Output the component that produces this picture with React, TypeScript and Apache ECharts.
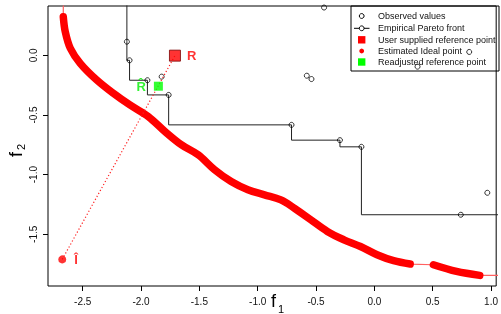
import React, { useEffect, useRef } from 'react';
import * as echarts from 'echarts';

// Axis ticks
const xTicks = [-2.5, -2.0, -1.5, -1.0, -0.5, 0.0, 0.5, 1.0];
const yTicks = [-1.5, -1.0, -0.5, 0.0];

// Observed objective values (f1, f2)
const observedF1 = [-2.121, -2.098, -1.945, -1.823, -1.763, -0.710, -0.295, -0.111, 0.741, -0.579, -0.539, 0.968, 0.813, 0.370, -0.431];
const observedF2 = [0.114, -0.042, -0.209, -0.179, -0.332, -0.583, -0.711, -0.767, -1.336, -0.171, -0.199, -1.152, 0.028, -0.095, 0.400];

// Empirical Pareto front (non-dominated points)
const frontF1 = [-2.121, -2.098, -1.945, -1.763, -0.710, -0.295, -0.111, 0.741];
const frontF2 = [0.114, -0.042, -0.209, -0.332, -0.583, -0.711, -0.767, -1.336];

// Estimated ideal-point curve, two dense segments
const curveAF1 = [-2.666, -2.649, -2.606, -2.521, -2.379, -2.237, -2.095, -1.936, -1.794, -1.652, -1.510, -1.368, -1.227, -1.084, -0.942, -0.801, -0.687, -0.545, -0.403, -0.261, -0.119, 0.023, 0.165, 0.307];
const curveAF2 = [0.323, 0.197, 0.059, -0.067, -0.207, -0.318, -0.416, -0.514, -0.639, -0.751, -0.834, -0.960, -1.058, -1.127, -1.169, -1.211, -1.280, -1.378, -1.476, -1.546, -1.602, -1.671, -1.721, -1.749];
const curveBF1 = [0.506, 0.704, 0.903];
const curveBF2 = [-1.755, -1.811, -1.844];

// Special points
const idealPoint = [-2.675, -1.710];
const userRefPoint = [-1.709, -0.003];
const readjustedPoint = [-1.851, -0.259];

const legendLabels = [
  'Observed values',
  'Empirical Pareto front',
  'User supplied reference point',
  'Estimated Ideal point',
  'Readjusted reference point',
];

const FONT = '"Liberation Sans", Arial, Helvetica, sans-serif';

const zip = (a: number[], b: number[]) => a.map((v, i) => [v, b[i]]);

export default function App() {
  const ref = useRef<HTMLDivElement>(null);
  useEffect(() => {
    const chart = echarts.init(ref.current!, null, { renderer: 'svg' });
    const curveA = zip(curveAF1, curveAF2);
    const curveB = zip(curveBF1, curveBF2);
    const thin = [[curveAF1[0], 0.6], ...curveA, ...curveB, [1.3, curveBF2[curveBF2.length - 1]]];
    const front = [[frontF1[0], 0.6], ...zip(frontF1, frontF2), [1.3, frontF2[frontF2.length - 1]]];

    const lx = 361.7;
    const tx = 378;
    const rows = [16, 28.3, 39.8, 51, 62];
    const legendChildren: any[] = [
      { type: 'rect', shape: { x: 351, y: 6, width: 148, height: 65 }, style: { fill: 'none', stroke: '#000', lineWidth: 1 } },
      { type: 'circle', shape: { cx: lx, cy: rows[0], r: 2.4 }, style: { fill: 'none', stroke: '#000', lineWidth: 1 } },
      { type: 'line', shape: { x1: 354, y1: rows[1], x2: 369.5, y2: rows[1] }, style: { stroke: '#000', lineWidth: 1 } },
      { type: 'circle', shape: { cx: lx, cy: rows[1], r: 2.4 }, style: { fill: '#fff', stroke: '#000', lineWidth: 1 } },
      { type: 'rect', shape: { x: lx - 3.7, y: rows[2] - 3.7, width: 7.4, height: 7.4 }, style: { fill: '#ff0000' } },
      { type: 'circle', shape: { cx: lx, cy: rows[3], r: 2.4 }, style: { fill: '#ff0000' } },
      { type: 'rect', shape: { x: lx - 3.7, y: rows[4] - 3.7, width: 7.4, height: 7.4 }, style: { fill: '#00ff00' } },
      ...legendLabels.map((t, i) => ({
        type: 'text', x: tx, y: rows[i],
        style: { text: t, fontSize: 9, fontFamily: FONT, fill: '#111', verticalAlign: 'middle', align: 'left' },
      })),
    ];

    chart.setOption({
      animation: false,
      grid: { left: 48, right: 1, top: 6, bottom: 28, show: true, borderColor: '#000', borderWidth: 1, backgroundColor: 'transparent' },
      xAxis: {
        type: 'value', min: -2.797, max: 1.044,
        axisLine: { show: false, onZero: false },
        splitLine: { show: false },
        axisTick: { show: true, customValues: xTicks, length: 5, lineStyle: { color: '#000' } },
        axisLabel: { customValues: xTicks, formatter: (v: number) => v.toFixed(1), fontSize: 10, fontFamily: FONT, color: '#111', margin: 10 },
      },
      yAxis: {
        type: 'value', min: -1.933, max: 0.413,
        axisLine: { show: false, onZero: false },
        splitLine: { show: false },
        axisTick: { show: true, customValues: yTicks, length: 5, lineStyle: { color: '#000' } },
        axisLabel: { customValues: yTicks, rotate: 90, formatter: (v: number) => v.toFixed(1), fontSize: 10, fontFamily: FONT, color: '#111', margin: 10 },
      },
      series: [
        { type: 'line', data: thin, symbol: 'none', lineStyle: { color: '#ff6060', width: 1.2 }, z: 1, silent: true },
        { type: 'line', data: curveA, symbol: 'none', smooth: 0.35, lineStyle: { color: '#ff0000', width: 7.5, cap: 'round', join: 'round' }, z: 2, silent: true },
        { type: 'line', data: curveB, symbol: 'none', smooth: 0.35, lineStyle: { color: '#ff0000', width: 7.5, cap: 'round', join: 'round' }, z: 2, silent: true },
        { type: 'line', data: front, step: 'start', symbol: 'none', lineStyle: { color: '#222', width: 1 }, z: 3, silent: true },
        {
          type: 'scatter', data: zip(observedF1, observedF2), symbol: 'circle', symbolSize: 5,
          itemStyle: { color: 'rgba(0,0,0,0)', borderColor: '#000', borderWidth: 1 }, z: 4, silent: true,
        },
        {
          type: 'line', data: [idealPoint, userRefPoint], symbol: 'none',
          lineStyle: { color: '#ff2020', width: 1.2, type: [1.2, 2.2] }, z: 5, silent: true,
        },
        {
          type: 'scatter', data: [idealPoint], symbol: 'circle', symbolSize: 8,
          itemStyle: { color: '#ff0000' }, z: 6, silent: true,
          label: { show: true, position: 'right', distance: 8, formatter: 'Î', color: '#ff0000', fontSize: 13, fontWeight: 'bold', fontFamily: FONT },
        },
        {
          type: 'scatter', data: [userRefPoint], symbol: 'rect', symbolSize: 11,
          itemStyle: { color: '#ff0000', borderColor: '#7a0000', borderWidth: 1 }, z: 6, silent: true,
          label: { show: true, position: 'right', distance: 6, formatter: 'R', color: '#ff0000', fontSize: 13, fontWeight: 'bold', fontFamily: FONT },
        },
        {
          type: 'scatter', data: [readjustedPoint], symbol: 'rect', symbolSize: 9,
          itemStyle: { color: '#00ff00' }, z: 6, silent: true,
          label: { show: true, position: 'left', distance: 8, formatter: 'R̂', color: '#00ee00', fontSize: 13, fontWeight: 'bold', fontFamily: FONT },
        },
      ],
      graphic: [
        { type: 'group', children: legendChildren, z: 10 },
        { type: 'text', x: 271, y: 301, style: { text: 'f', fontSize: 18, fontFamily: FONT, fill: '#000', verticalAlign: 'middle', align: 'left' } },
        { type: 'text', x: 278, y: 309, style: { text: '1', fontSize: 11, fontFamily: FONT, fill: '#000', verticalAlign: 'middle', align: 'left' } },
        {
          type: 'group', x: 16, y: 152, rotation: Math.PI / 2,
          children: [
            { type: 'text', x: -5, y: 0, style: { text: 'f', fontSize: 18, fontFamily: FONT, fill: '#000', verticalAlign: 'middle', align: 'left' } },
            { type: 'text', x: 2, y: 5, style: { text: '2', fontSize: 11, fontFamily: FONT, fill: '#000', verticalAlign: 'middle', align: 'left' } },
          ],
        },
      ],
    });
    return () => chart.dispose();
  }, []);
  return <div ref={ref} style={{ position: 'fixed', left: 0, top: 0, width: 501, height: 314 }} />;
}
